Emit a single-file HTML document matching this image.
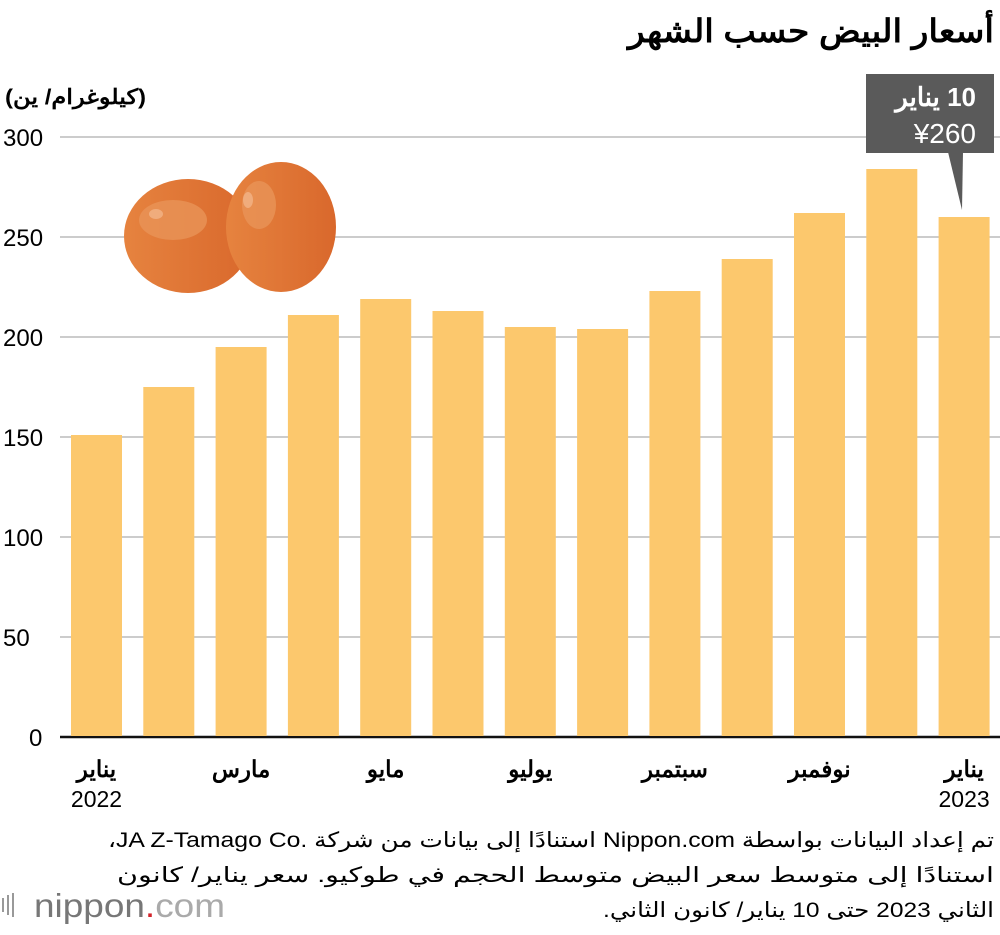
<!DOCTYPE html>
<html><head><meta charset="utf-8"><style>
body{margin:0;background:#fff;width:1000px;height:930px;overflow:hidden;font-family:"Liberation Sans","Noto Sans CJK SC",sans-serif}
</style></head><body>
<svg width="1000" height="930" xmlns="http://www.w3.org/2000/svg">
<text x="994" y="42" direction="rtl" text-anchor="start" font-size="32" font-weight="bold" textLength="366" lengthAdjust="spacingAndGlyphs">أسعار البيض حسب الشهر</text>
<text x="146" y="104" direction="rtl" text-anchor="start" font-size="21" font-weight="bold" textLength="141" lengthAdjust="spacingAndGlyphs">(كيلوغرام/ ين)</text>
<g id="grid"></g>
<g id="eggs">
<defs>
<linearGradient id="eg" x1="0" x2="1"><stop offset="0" stop-color="#e6833f"/><stop offset="1" stop-color="#d9682c"/></linearGradient>
</defs>
<ellipse cx="188" cy="236" rx="64" ry="57" fill="url(#eg)"/>
<ellipse cx="173" cy="220" rx="34" ry="20" fill="#e99358" opacity="0.8"/>
<ellipse cx="156" cy="214" rx="7" ry="5" fill="#f0ac7c"/>
<ellipse cx="281" cy="227" rx="55" ry="65" fill="url(#eg)"/>
<ellipse cx="259" cy="205" rx="17" ry="24" fill="#e99358" opacity="0.8"/>
<ellipse cx="248" cy="200" rx="5" ry="8" fill="#f0ac7c"/>
</g>
<g id="bars"></g>
<g id="labels"></g>
<g>
<rect x="866" y="74" width="128" height="79" fill="#5a5a5a"/>
<polygon points="948,152 963,152 962,210" fill="#5a5a5a"/>
<text x="976" y="106" direction="rtl" text-anchor="start" font-size="26" font-weight="bold" fill="#fff">10 يناير</text>
<text x="976" y="143" text-anchor="end" font-size="28" fill="#fff">¥260</text>
</g>
<g font-size="21" direction="rtl" text-anchor="start">
<text x="994" y="847" textLength="886" lengthAdjust="spacingAndGlyphs">تم إعداد البيانات بواسطة Nippon.com استنادًا إلى بيانات من شركة JA Z-Tamago Co.&#x200E;،</text>
<text x="994" y="882" textLength="877" lengthAdjust="spacingAndGlyphs">استنادًا إلى متوسط سعر البيض متوسط الحجم في طوكيو. سعر يناير/ كانون</text>
<text x="994" y="917" textLength="391" lengthAdjust="spacingAndGlyphs">الثاني 2023 حتى 10 يناير/ كانون الثاني.</text>
</g>
<g>
<rect x="2" y="898" width="2" height="14" fill="#999"/><rect x="7" y="895" width="2" height="20" fill="#999"/><rect x="12" y="893" width="2" height="24" fill="#999"/>
<text x="34" y="917" font-size="33" fill="#777" textLength="191" lengthAdjust="spacingAndGlyphs">nippon<tspan fill="#d2232a">.</tspan><tspan fill="#aaa">com</tspan></text>
</g>
</svg>
<script>
const categories=["Jan 2022","Feb","Mar","Apr","May","Jun","Jul","Aug","Sep","Oct","Nov","Dec","Jan 2023"];
const values=[151,175,195,211,219,213,205,204,223,239,262,284,260];
const yTicks=[0,50,100,150,200,250,300];
const xLabels=[[0,"يناير","2022"],[2,"مارس",""],[4,"مايو",""],[6,"يوليو",""],[8,"سبتمبر",""],[10,"نوفمبر",""],[12,"يناير","2023"]];
const NS="http://www.w3.org/2000/svg";
const y=v=>737-v*2;
const x=i=>71+i*72.3;
const bw=51;
const grid=document.getElementById('grid');
yTicks.forEach(t=>{
 const l=document.createElementNS(NS,'line');
 
 
 l.setAttribute('x1',60);l.setAttribute('x2',1000);l.setAttribute('y1',y(t));l.setAttribute('y2',y(t));
 l.setAttribute('stroke',t===0?'#111':'#ccc');l.setAttribute('stroke-width',t===0?2.5:2);
 grid.appendChild(l);
 const tx=document.createElementNS(NS,'text');
 
 
 tx.setAttribute('x',t===0?29:3);tx.setAttribute('y',y(t)+9);tx.setAttribute('font-size',24);
 tx.textContent=t;grid.appendChild(tx);
});
const bars=document.getElementById('bars');
values.forEach((v,i)=>{
 const r=document.createElementNS(NS,'rect');
 
 
 r.setAttribute('x',x(i));r.setAttribute('width',bw);r.setAttribute('y',y(v));r.setAttribute('height',y(0)-y(v)-1);
 r.setAttribute('fill','#fcc86d');bars.appendChild(r);
});
const lab=document.getElementById('labels');
xLabels.forEach(([i,a,b])=>{
 const cx=x(i)+bw/2;
 const t=document.createElementNS(NS,'text');
 
 
 t.setAttribute('x',cx);t.setAttribute('y',777);t.setAttribute('text-anchor','middle');t.setAttribute('font-size',23);t.setAttribute('font-weight','bold');
 t.textContent=a;lab.appendChild(t);
 if(b){const t2=document.createElementNS(NS,'text');
 
 
 t2.setAttribute('x',cx);t2.setAttribute('y',807);t2.setAttribute('text-anchor','middle');t2.setAttribute('font-size',23);
 t2.textContent=b;lab.appendChild(t2);}
});
</script>
</body></html>
